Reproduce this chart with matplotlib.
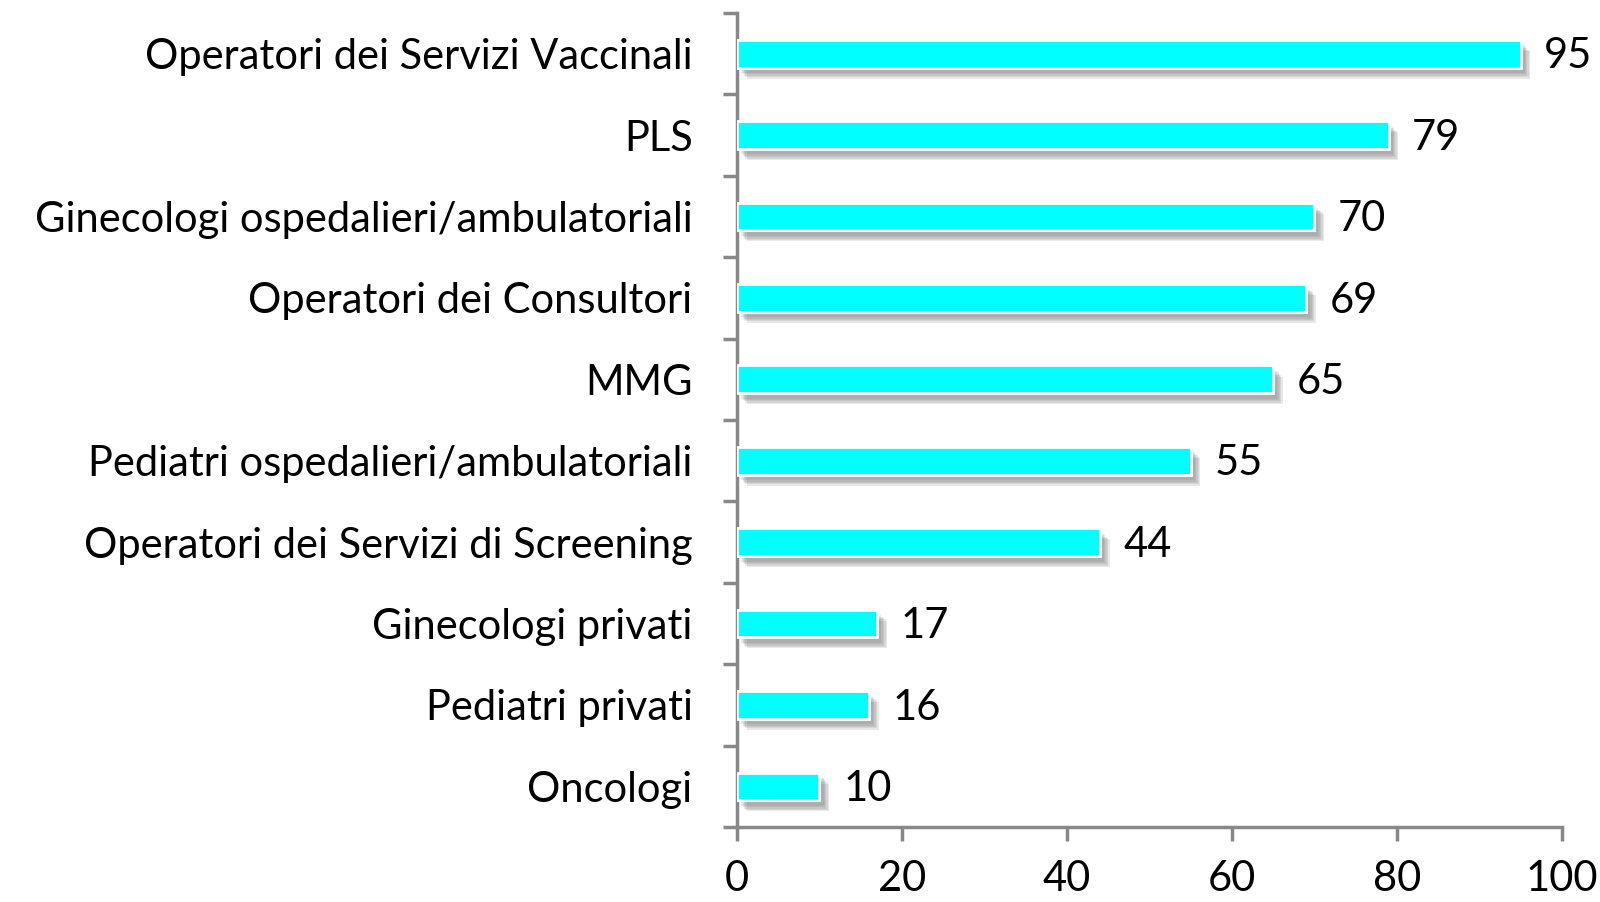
import numpy as np
import matplotlib
matplotlib.use("Agg")
from matplotlib import pyplot as plt
from matplotlib import patheffects as pe

categories = [
    "Operatori dei Servizi Vaccinali",
    "PLS",
    "Ginecologi ospedalieri/ambulatoriali",
    "Operatori dei Consultori",
    "MMG",
    "Pediatri ospedalieri/ambulatoriali",
    "Operatori dei Servizi di Screening",
    "Ginecologi privati",
    "Pediatri privati",
    "Oncologi",
]
values = [95, 79, 70, 69, 65, 55, 44, 17, 16, 10]
xticks = [0, 20, 40, 60, 80, 100]

plt.rcParams['font.family'] = ['Lato', 'DejaVu Sans']

fig = plt.figure(figsize=(16, 9.02), dpi=100)
ax = fig.add_axes([0.4606, 0.0831, 0.5155, 0.9025])

y = np.arange(len(categories))
# soft shadow: several offset layers stacked
shadow = [pe.SimplePatchShadow(offset=(d, -d - 1), shadow_rgbFace='#808080', alpha=0.18)
          for d in (7, 6, 5, 4, 3)]
shadow.append(pe.Normal())
bars = ax.barh(y, values, height=0.34, color='#00ffff', edgecolor='white',
               linewidth=2, zorder=3)
for b in bars:
    b.set_path_effects(shadow)

for yi, v in zip(y, values):
    ax.annotate(str(v), (v, yi), xytext=(17, -2), textcoords='offset points',
                va='center', ha='left', fontsize=30)

ax.set_ylim(len(categories) - 0.5, -0.5)
ax.set_xlim(0, 100)
ax.set_xticks(xticks)
ax.set_yticks(y)
ax.set_yticklabels(categories, fontsize=30)
ax.set_xticklabels([str(t) for t in xticks], fontsize=30)

# ticks at category boundaries on y
ax.set_yticks(np.arange(len(categories) + 1) - 0.5, minor=True)
ax.tick_params(axis='y', which='major', length=0, pad=32)
ax.tick_params(axis='y', which='minor', length=10, width=2.5, color='#888888')
ax.tick_params(axis='x', length=10, width=2.5, color='#888888', pad=14)

for s in ['top', 'right']:
    ax.spines[s].set_visible(False)
for s in ['left', 'bottom']:
    ax.spines[s].set_color('#888888')
    ax.spines[s].set_linewidth(2.5)

fig.savefig("out.png", dpi=100)
